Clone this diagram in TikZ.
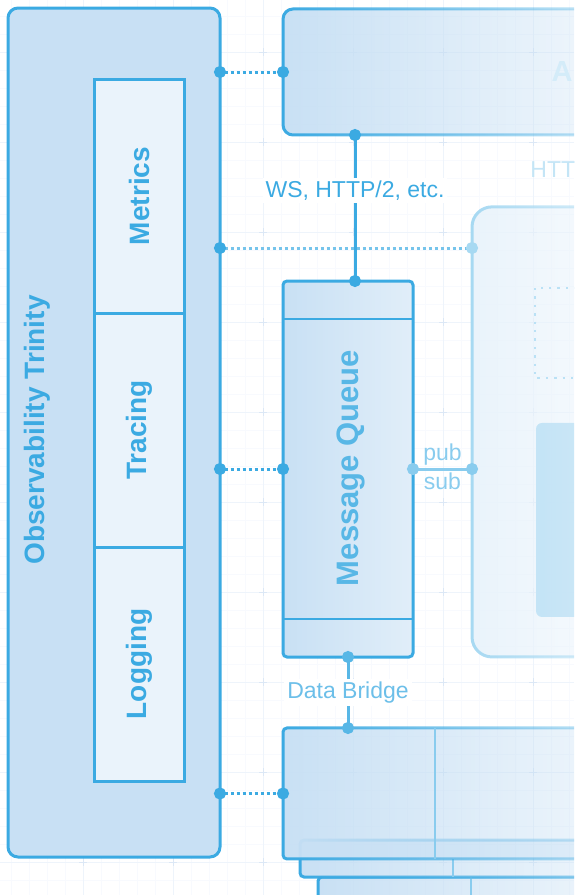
\documentclass[tikz,border=0pt]{standalone}
\usepackage{fontspec}
\setmainfont{Liberation Sans}
\usetikzlibrary{positioning, arrows.meta, fadings}

\definecolor{lineblue}{RGB}{59,170,226}
\definecolor{fillblue}{RGB}{200,224,244}
\definecolor{cellfill}{RGB}{234,243,251}
\definecolor{slottint}{RGB}{196,228,246}
\definecolor{gridmajor}{RGB}{238,244,251}
\definecolor{gridminor}{RGB}{248,250,254}
\definecolor{gridcross}{RGB}{220,232,246}

\tikzfading[name=faderight, left color=transparent!0, right color=transparent!85]
\tikzfading[name=fadehalf, left color=transparent!0, right color=transparent!50]

\tikzset{
  panel/.style={draw=lineblue, line width=1.5pt, fill=fillblue, rounded corners=5pt,
    inner sep=0pt, outer sep=0pt},
  cell/.style={draw=lineblue, line width=1.5pt, fill=cellfill, inner sep=0pt, outer sep=0pt,
    minimum width=45pt, minimum height=117pt},
  title/.style={font=\fontsize{14}{16}\selectfont\bfseries, text=lineblue, rotate=90, inner sep=0pt},
  linklabel/.style={font=\fontsize{11.5}{13}\selectfont, text=lineblue, fill=white, inner sep=1.5pt},
  link/.style={line width=1.5pt, {Circle[length=6pt]}-{Circle[length=6pt]},
    shorten <=-3pt, shorten >=-3pt},
  dotlink/.style={link, lineblue, dash pattern=on 1.5pt off 1.5pt},
}

\begin{document}
\begin{tikzpicture}[x=0.5pt, y=-0.5pt]
  \useasboundingbox (0,0) rectangle (574,895);
  \clip (0,0) rectangle (574,895);

  % Grid
  \foreach \gx in {11,29,...,574} \draw[gridminor, line width=0.4pt] (\gx,0) -- (\gx,895);
  \foreach \gy in {16,34,...,895} \draw[gridminor, line width=0.4pt] (0,\gy) -- (574,\gy);
  \foreach \gx in {83,173,...,574} \draw[gridmajor, line width=0.5pt] (\gx,0) -- (\gx,895);
  \foreach \gy in {52,142,...,895} \draw[gridmajor, line width=0.5pt] (0,\gy) -- (574,\gy);
  \foreach \gx in {83,173,...,574}
    \foreach \gy in {52,142,...,895}
      \draw[gridcross, line width=0.5pt] (\gx-4,\gy) -- (\gx+4,\gy) (\gx,\gy-4) -- (\gx,\gy+4);

  % Observability column
  \node[panel, minimum width=106pt, minimum height=424.5pt] (trinity) at (114,432.5) {};
  \node[title] (trinitylbl) at (37,430) {Observability Trinity};
  \node[cell] (metrics) at (139,196) {};
  \node[cell, below=0pt of metrics] (tracing) {};
  \node[cell, below=0pt of tracing] (logging) {};
  \node[title] (metricslbl) at (metrics) {Metrics};
  \node[title] (tracinglbl) at (tracing) {Tracing};
  \node[title] (logginglbl) at (logging) {Logging};

  % Gateway (top)
  \node[panel, path fading=faderight, minimum width=188.5pt, minimum height=63pt] (gateway) at (471.5,72) {};
  \node[font=\fontsize{14.5}{16}\selectfont\bfseries, text=lineblue!22, anchor=east, inner sep=0pt]
    (gatewaylbl) at (573,72) {A};
  \node[font=\fontsize{11.5}{13}\selectfont, text=lineblue!30, anchor=west, inner sep=0pt]
    (httplbl) at (530,170) {HTT};

  % Service box (right)
  \node[panel, draw=lineblue!45, fill=fillblue!40, rounded corners=10pt, path fading=faderight,
    minimum width=94pt, minimum height=225pt] (svc) at (566,432) {};
  \draw[lineblue!35, line width=1.2pt, dash pattern=on 1.2pt off 3pt] (535,288) rectangle (680,378);
  \fill[slottint, rounded corners=3pt, path fading=fadehalf] (536,423) rectangle (680,617);

  % Message queue
  \node[panel, rounded corners=2pt, left color=fillblue, right color=fillblue!55,
    minimum width=65pt, minimum height=188pt] (mq) at (348,469) {};
  \draw[lineblue, line width=1.2pt] ([yshift=-19pt]mq.north west) -- ([yshift=-19pt]mq.north east);
  \draw[lineblue, line width=1.2pt] ([yshift=19pt]mq.south west) -- ([yshift=19pt]mq.south east);
  \node[title, font=\fontsize{15.5}{17}\selectfont\bfseries, text=lineblue!85] (mqlbl) at (351,468) {Message Queue};

  % Storage stack (bottom)
  \draw[panel, rounded corners=2pt, path fading=faderight] (318,877) rectangle (680,930);
  \draw[lineblue!60, line width=1.2pt] (471,877) -- (471,895);
  \draw[panel, rounded corners=2pt, path fading=faderight] (300,840) rectangle (680,877);
  \draw[lineblue!60, line width=1.2pt] (453,859) -- (453,877);
  \node[panel, rounded corners=2pt, path fading=faderight, minimum width=198.5pt, minimum height=65.5pt]
    (store) at (481.5,793.5) {};
  \draw[lineblue!60, line width=1.2pt] (store.north -| 435,0) -- (store.south -| 435,0);

  % Connectors
  \draw[dotlink] (trinity.east |- gateway.west) -- (gateway.west);
  \draw[dotlink, lineblue!70, {Circle[length=6pt, lineblue]}-{Circle[length=6pt, lineblue!45]}]
    (trinity.east |- 0,248) -- (svc.west |- 0,248);
  \draw[dotlink] (trinity.east |- mq.west) -- (mq.west);
  \draw[dotlink] (trinity.east |- store.west) -- (store.west);

  \coordinate (wsport) at ([xshift=3.5pt]mq.north);
  \draw[link, lineblue] (gateway.south -| wsport) -- (wsport)
    node[linklabel, pos=0.38] (wslbl) {WS, HTTP/2, etc.};
  \draw[link, lineblue!60] (mq.east) -- (svc.west |- mq.east)
    node[midway, above, font=\fontsize{11.5}{13}\selectfont, text=lineblue!60, inner sep=1pt] (publbl) {pub}
    node[midway, below, font=\fontsize{11.5}{13}\selectfont, text=lineblue!60, inner sep=1pt] (sublbl) {sub};
  \draw[link, lineblue!85] (mq.south) -- (store.north -| mq.south)
    node[linklabel, midway, text=lineblue!75] (bridgelbl) {Data Bridge};
\end{tikzpicture}
\end{document}
